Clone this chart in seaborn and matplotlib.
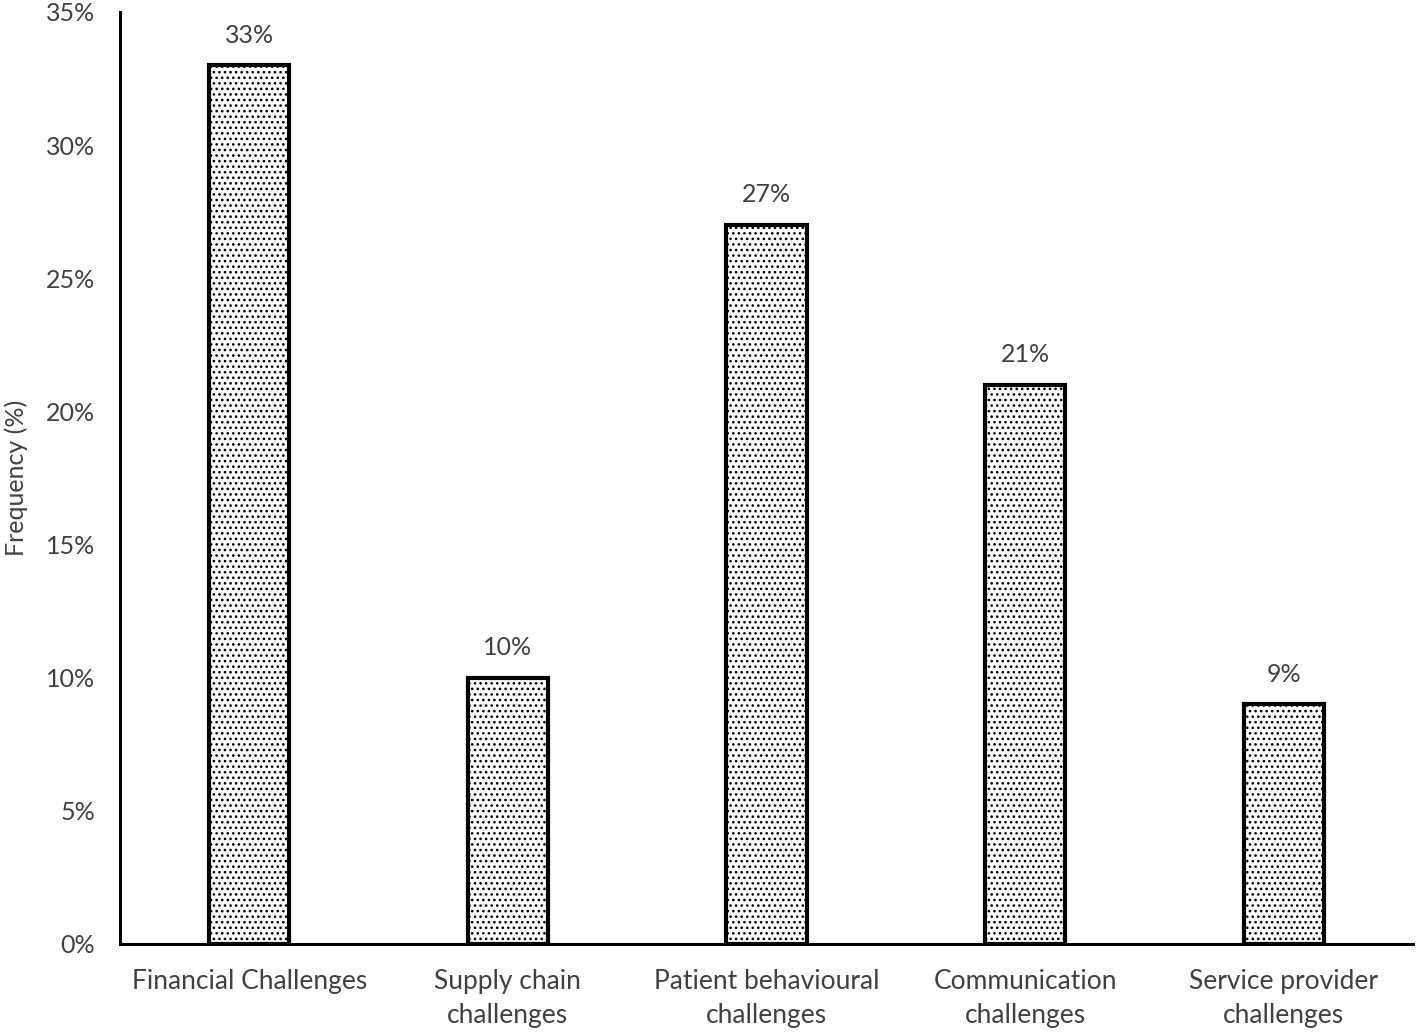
import matplotlib
matplotlib.use("Agg")
import matplotlib.pyplot as plt
import seaborn as sns
import pandas as pd

categories = ["Financial Challenges", "Supply chain\nchallenges", "Patient behavioural\nchallenges",
              "Communication\nchallenges", "Service provider\nchallenges"]
values = [33, 10, 27, 21, 9]
yticks = [0, 5, 10, 15, 20, 25, 30, 35]

sns.set_style("white")
plt.rcParams["font.family"] = ["Lato", "DejaVu Sans"]
plt.rcParams["hatch.linewidth"] = 1.1
plt.rcParams["hatch.color"] = "black"

df = pd.DataFrame({"category": categories, "value": values})

fig = plt.figure(figsize=(14.18, 10.35), dpi=100)
ax = fig.add_axes([0.0846, 0.088, 0.912, 0.9005])

sns.barplot(data=df, x="category", y="value", color="white", width=0.31,
            edgecolor="black", linewidth=3, hatch="...", ax=ax)

txt = "#404040"
for p, v in zip(ax.patches, values):
    ax.text(p.get_x() + p.get_width() / 2, v + 0.7, f"{v}%", ha="center", va="bottom",
            fontsize=18, color=txt)

ax.set_ylim(0, 35)
ax.set_yticks(yticks)
ax.set_yticklabels([f"{t}%" for t in yticks], fontsize=18, color=txt)
ax.tick_params(axis="both", length=0)
ax.tick_params(axis="y", pad=18)
ax.tick_params(axis="x", pad=18)
for lab in ax.get_xticklabels():
    lab.set_fontsize(19)
    lab.set_color(txt)
    lab.set_linespacing(1.45)
ax.set_xlabel("")
ax.set_ylabel("Frequency (%)", fontsize=18, color=txt)
ax.yaxis.set_label_coords(-0.071, 0.5)
for s in ["top", "right"]:
    ax.spines[s].set_visible(False)
for s in ["left", "bottom"]:
    ax.spines[s].set_color("black")
    ax.spines[s].set_linewidth(2.2)

fig.savefig("out.png", dpi=100)
